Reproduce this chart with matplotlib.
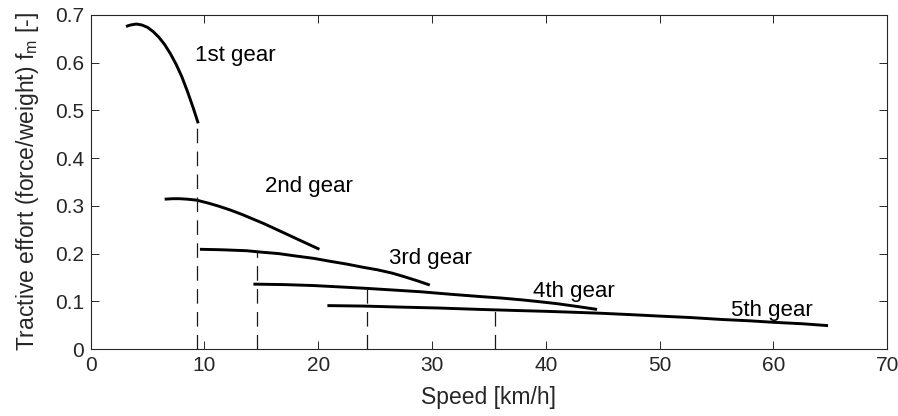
import matplotlib
matplotlib.use("Agg")
import matplotlib.pyplot as plt

plt.rcParams['font.family'] = ['Liberation Sans', 'DejaVu Sans']
plt.rcParams['lines.scale_dashes'] = False

# tractive effort curves per gear (speed km/h, f_m)
gear1_v = [3.1, 3.5, 4.0, 4.5, 5.0, 5.5, 6.0, 6.5, 7.0, 7.5, 8.0, 8.5, 9.0, 9.45]
gear1_f = [0.676, 0.679, 0.681, 0.679, 0.674, 0.665, 0.653, 0.638, 0.619,
           0.597, 0.571, 0.540, 0.506, 0.473]
gear2_v = [6.5, 7.2, 7.8, 8.5, 9.3, 10.3, 11.3, 12.3, 13.3, 14.3, 15.2,
           16.2, 17.2, 18.1, 19.1, 20.1]
gear2_f = [0.314, 0.315, 0.315, 0.314, 0.312, 0.306, 0.299, 0.291, 0.282,
           0.272, 0.263, 0.252, 0.241, 0.231, 0.220, 0.209]
gear3_v = [9.6, 11.5, 13.7, 15.0, 16.5, 18.0, 19.6, 21.0, 22.5, 24.0, 25.2,
           26.5, 27.5, 28.7, 29.8]
gear3_f = [0.209, 0.208, 0.206, 0.203, 0.200, 0.195, 0.190, 0.184, 0.178,
           0.171, 0.166, 0.159, 0.152, 0.143, 0.134]
gear4_v = [14.3, 17.0, 19.6, 22.0, 24.3, 27.0, 29.0, 31.5, 34.2, 36.0, 37.9,
           39.5, 41.0, 42.8, 44.5]
gear4_f = [0.136, 0.135, 0.133, 0.130, 0.127, 0.123, 0.120, 0.115, 0.110,
           0.107, 0.103, 0.099, 0.095, 0.089, 0.083]
gear5_v = [20.8, 24.0, 27.0, 30.5, 34.2, 37.0, 40.0, 42.5, 44.8, 47.5, 50.0,
           52.7, 55.4, 58.0, 60.0, 62.5, 64.8]
gear5_f = [0.091, 0.090, 0.088, 0.086, 0.083, 0.081, 0.079, 0.077, 0.075,
           0.072, 0.069, 0.066, 0.062, 0.059, 0.056, 0.053, 0.049]

# shift points (speed, top of dashed line)
shift_v = [9.35, 14.65, 24.3, 35.5]
shift_f = [0.473, 0.206, 0.127, 0.083]

labels = ['1st gear', '2nd gear', '3rd gear', '4th gear', '5th gear']
label_v = [9.2, 15.35, 26.2, 38.9, 56.3]
label_f = [0.616, 0.340, 0.190, 0.120, 0.080]

fig = plt.figure(figsize=(8.98, 4.16), dpi=100)
ax = fig.add_axes([0.101, 0.161, 0.887, 0.803])

for v, f in [(gear1_v, gear1_f), (gear2_v, gear2_f), (gear3_v, gear3_f),
             (gear4_v, gear4_f), (gear5_v, gear5_f)]:
    ax.plot(v, f, color='black', lw=2.1, solid_capstyle='butt',
            solid_joinstyle='round')

for v, f in zip(shift_v, shift_f):
    ax.plot([v, v], [0, f], color='#1a1a1a', lw=0.9, dashes=(10.5, 6))

for t, v, f in zip(labels, label_v, label_f):
    ax.text(v, f, t, fontsize=16, ha='left', va='center')

ax.set_xlim(0, 70)
ax.set_ylim(0, 0.7)
ax.set_xticks(range(0, 71, 10))
ax.set_yticks([0, 0.1, 0.2, 0.3, 0.4, 0.5, 0.6, 0.7])
ax.set_yticklabels(['0', '0.1', '0.2', '0.3', '0.4', '0.5', '0.6', '0.7'])
ax.tick_params(direction='in', top=True, right=True, length=5.5, width=0.7,
               labelsize=15, colors='#262626', labelcolor='#262626', pad=5)
for s in ax.spines.values():
    s.set_color('#262626')
    s.set_linewidth(0.8)

ax.set_xlabel('Speed [km/h]', fontsize=16.5, color='#262626', labelpad=8)
ax.set_ylabel('Tractive effort (force/weight) f$_\\mathregular{m}$ [-]',
              fontsize=16.5, color='#262626', labelpad=10)

fig.savefig('out.png', dpi=100)
